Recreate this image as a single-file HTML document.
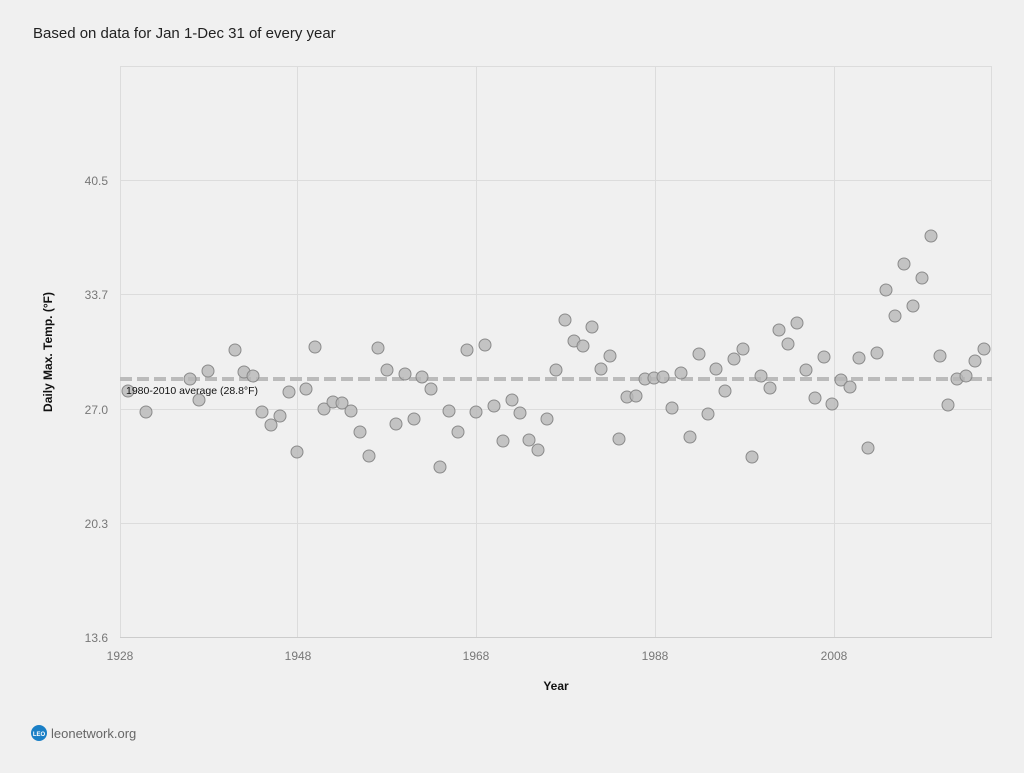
<!DOCTYPE html>
<html><head><meta charset="utf-8"><style>
body{margin:0;background:#f0f0f0;font-family:"Liberation Sans",sans-serif;}
</style></head><body>
<svg width="1024" height="768" xmlns="http://www.w3.org/2000/svg" font-family="Liberation Sans, sans-serif">
<rect width="1024" height="768" fill="#f0f0f0"/>
<text x="33" y="38" font-size="15" fill="#222">Based on data for Jan 1-Dec 31 of every year</text>
<g stroke="#dcdcdc" stroke-width="1">
<line x1="120" y1="66.5" x2="992" y2="66.5"/>
<line x1="120" y1="180.5" x2="992" y2="180.5"/>
<line x1="120" y1="294.5" x2="992" y2="294.5"/>
<line x1="120" y1="409.5" x2="992" y2="409.5"/>
<line x1="120" y1="523.5" x2="992" y2="523.5"/>
<line x1="120.5" y1="66" x2="120.5" y2="637"/>
<line x1="297.5" y1="66" x2="297.5" y2="637"/>
<line x1="476.5" y1="66" x2="476.5" y2="637"/>
<line x1="655.5" y1="66" x2="655.5" y2="637"/>
<line x1="834.5" y1="66" x2="834.5" y2="637"/>
<line x1="991.5" y1="66" x2="991.5" y2="637"/>
</g>
<line x1="120" y1="637.5" x2="992" y2="637.5" stroke="#ccc"/>
<g font-size="12" fill="#777" text-anchor="end">
<text x="108" y="185">40.5</text><text x="108" y="299">33.7</text><text x="108" y="414">27.0</text><text x="108" y="528">20.3</text><text x="108" y="642">13.6</text>
</g>
<g font-size="12" fill="#777" text-anchor="middle">
<text x="120" y="660">1928</text><text x="298" y="660">1948</text><text x="476" y="660">1968</text><text x="655" y="660">1988</text><text x="834" y="660">2008</text>
</g>
<text x="556" y="690" font-size="12" font-weight="bold" text-anchor="middle" fill="#111">Year</text>
<text transform="translate(52,352) rotate(-90)" font-size="12" font-weight="bold" text-anchor="middle" fill="#111">Daily Max. Temp. (°F)</text>
<line x1="120" y1="379" x2="992" y2="379" stroke="#bbb" stroke-width="4" stroke-dasharray="12,5"/>
<g fill="#b8b8b8" fill-opacity="0.8" stroke="#8a8a8a" stroke-width="1">
<circle cx="128" cy="391" r="6"/><circle cx="146" cy="412" r="6"/><circle cx="190" cy="379" r="6"/><circle cx="199" cy="400" r="6"/><circle cx="208" cy="371" r="6"/><circle cx="235" cy="350" r="6"/><circle cx="244" cy="372" r="6"/><circle cx="253" cy="376" r="6"/><circle cx="262" cy="412" r="6"/><circle cx="271" cy="425" r="6"/><circle cx="280" cy="416" r="6"/><circle cx="289" cy="392" r="6"/><circle cx="297" cy="452" r="6"/><circle cx="306" cy="389" r="6"/><circle cx="315" cy="347" r="6"/><circle cx="324" cy="409" r="6"/><circle cx="333" cy="402" r="6"/><circle cx="342" cy="403" r="6"/><circle cx="351" cy="411" r="6"/><circle cx="360" cy="432" r="6"/><circle cx="369" cy="456" r="6"/><circle cx="378" cy="348" r="6"/><circle cx="387" cy="370" r="6"/><circle cx="396" cy="424" r="6"/><circle cx="405" cy="374" r="6"/><circle cx="414" cy="419" r="6"/><circle cx="422" cy="377" r="6"/><circle cx="431" cy="389" r="6"/><circle cx="440" cy="467" r="6"/><circle cx="449" cy="411" r="6"/><circle cx="458" cy="432" r="6"/><circle cx="467" cy="350" r="6"/><circle cx="476" cy="412" r="6"/><circle cx="485" cy="345" r="6"/><circle cx="494" cy="406" r="6"/><circle cx="503" cy="441" r="6"/><circle cx="512" cy="400" r="6"/><circle cx="520" cy="413" r="6"/><circle cx="529" cy="440" r="6"/><circle cx="538" cy="450" r="6"/><circle cx="547" cy="419" r="6"/><circle cx="556" cy="370" r="6"/><circle cx="565" cy="320" r="6"/><circle cx="574" cy="341" r="6"/><circle cx="583" cy="346" r="6"/><circle cx="592" cy="327" r="6"/><circle cx="601" cy="369" r="6"/><circle cx="610" cy="356" r="6"/><circle cx="619" cy="439" r="6"/><circle cx="627" cy="397" r="6"/><circle cx="636" cy="396" r="6"/><circle cx="645" cy="379" r="6"/><circle cx="654" cy="378" r="6"/><circle cx="663" cy="377" r="6"/><circle cx="672" cy="408" r="6"/><circle cx="681" cy="373" r="6"/><circle cx="690" cy="437" r="6"/><circle cx="699" cy="354" r="6"/><circle cx="708" cy="414" r="6"/><circle cx="716" cy="369" r="6"/><circle cx="725" cy="391" r="6"/><circle cx="734" cy="359" r="6"/><circle cx="743" cy="349" r="6"/><circle cx="752" cy="457" r="6"/><circle cx="761" cy="376" r="6"/><circle cx="770" cy="388" r="6"/><circle cx="779" cy="330" r="6"/><circle cx="788" cy="344" r="6"/><circle cx="797" cy="323" r="6"/><circle cx="806" cy="370" r="6"/><circle cx="815" cy="398" r="6"/><circle cx="824" cy="357" r="6"/><circle cx="832" cy="404" r="6"/><circle cx="841" cy="380" r="6"/><circle cx="850" cy="387" r="6"/><circle cx="859" cy="358" r="6"/><circle cx="868" cy="448" r="6"/><circle cx="877" cy="353" r="6"/><circle cx="886" cy="290" r="6"/><circle cx="895" cy="316" r="6"/><circle cx="904" cy="264" r="6"/><circle cx="913" cy="306" r="6"/><circle cx="922" cy="278" r="6"/><circle cx="931" cy="236" r="6"/><circle cx="940" cy="356" r="6"/><circle cx="948" cy="405" r="6"/><circle cx="957" cy="379" r="6"/><circle cx="966" cy="376" r="6"/><circle cx="975" cy="361" r="6"/><circle cx="984" cy="349" r="6"/>
</g>
<text x="126" y="394" font-size="10.5" fill="#111">1980-2010 average (28.8°F)</text>
<circle cx="39" cy="733" r="8" fill="#1a7fc6"/>
<text x="39" y="736" font-size="6" font-weight="bold" fill="#fff" text-anchor="middle">LEO</text>
<text x="51" y="738" font-size="13" fill="#666">leonetwork.org</text>
</svg>
</body></html>
